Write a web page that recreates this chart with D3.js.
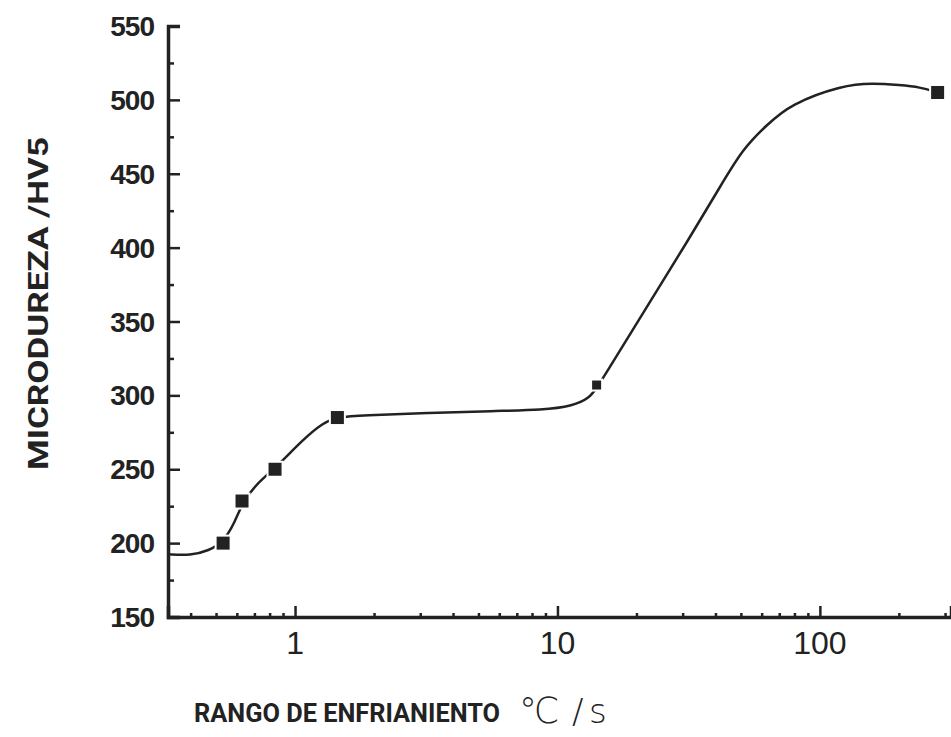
<!DOCTYPE html>
<html>
<head>
<meta charset="utf-8">
<script src="https://cdn.jsdelivr.net/npm/d3@7"></script>
<style>
  body { margin: 0; background: #fff; }
</style>
</head>
<body>
<svg id="chart" width="951" height="737"></svg>
<script>
// measured points: cooling rate (°C/s) vs hardness (HV5)
const rate = [0.532, 0.628, 0.839, 1.45, 14.1, 281];
const hardness = [200, 228.5, 250, 285, 307, 505];

// fitted curve
const curveRate = [0.328, 0.40, 0.47, 0.532, 0.59, 0.628, 0.72, 0.839, 1.07, 1.28, 1.46,
                   1.8, 3.2, 5.7, 8.8, 11.5, 13.2, 14.1, 15.2, 21.2, 32, 41.6, 50.9,
                   62.8, 76.9, 122, 159, 202, 240, 281];
const curveHV = [192.5, 191.5, 195, 200.5, 214, 227, 241, 250.5, 270, 281.5, 285.5,
                 286.5, 288, 289.5, 290, 293, 298, 305, 314, 355.8, 407, 441, 467,
                 483, 497, 510, 511.4, 510, 508.7, 505];

const xMajor = [1, 10, 100];
const yMajor = [150, 200, 250, 300, 350, 400, 450, 500, 550];
const yMinor = [175, 225, 275, 325, 375, 425, 475, 525];

const ink = '#222';
const svg = d3.select('#chart');

const xScale = d3.scaleLog()
                 .domain([0.328, 316])
                 .range([168, 951]);

const yScale = d3.scaleLinear()
                 .domain([150, 550])
                 .range([617, 26]);

const xMinor = xScale.ticks().filter(d => !xMajor.includes(d));

//X axis, ticks point up into the plot
const xAxis = d3.axisTop(xScale)
                .tickValues(xMajor)
                .tickSize(11)
                .tickFormat('');
svg.append('g')
   .attr('class', 'x-axis')
   .attr('transform', `translate(0,${yScale(150)})`)
   .call(xAxis);

svg.append('g')
   .attr('class', 'x-minor')
   .attr('transform', `translate(0,${yScale(150)})`)
   .call(d3.axisTop(xScale).tickValues(xMinor).tickSize(4).tickFormat(''));

svg.select('.x-minor .domain').remove();

//Y axis, ticks point right into the plot
const yAxis = d3.axisRight(yScale)
                .tickValues(yMajor.filter(d => d > 150))
                .tickSize(12)
                .tickFormat('');
svg.append('g')
   .attr('class', 'y-axis')
   .attr('transform', `translate(${xScale.range()[0]},0)`)
   .call(yAxis);

svg.append('g')
   .attr('class', 'y-minor')
   .attr('transform', `translate(${xScale.range()[0]},0)`)
   .call(d3.axisRight(yScale).tickValues(yMinor).tickSize(6).tickFormat(''));

svg.select('.y-minor .domain').remove();

svg.selectAll('.domain')
   .attr('stroke', ink)
   .attr('stroke-width', 3.5);
svg.selectAll('.tick line')
   .attr('stroke', ink)
   .attr('stroke-width', 2.5);

// tick labels
svg.append('g')
   .selectAll('text')
   .data(yMajor)
   .join('text')
   .attr('x', 154)
   .attr('y', d => yScale(d))
   .attr('dy', '0.36em')
   .attr('text-anchor', 'end')
   .attr('font-family', 'Liberation Sans, Arial, sans-serif')
   .attr('font-weight', 'bold')
   .attr('font-size', 28)
   .attr('letter-spacing', -1)
   .attr('fill', ink)
   .text(d => d);

svg.append('g')
   .selectAll('text')
   .data(xMajor)
   .join('text')
   .attr('x', d => xScale(d))
   .attr('y', 654)
   .attr('text-anchor', 'middle')
   .attr('font-family', 'Liberation Sans, Arial, sans-serif')
   .attr('font-size', 32)
   .attr('fill', ink)
   .text(d => d);

// axis titles
svg.append('text')
   .attr('transform', 'translate(48,470) rotate(-90)')
   .attr('font-family', 'Roboto, sans-serif')
   .attr('font-weight', 'bold')
   .attr('font-size', 28)
   .attr('textLength', 333)
   .attr('lengthAdjust', 'spacingAndGlyphs')
   .attr('fill', ink)
   .text('MICRODUREZA /HV5');

svg.append('text')
   .attr('x', 194)
   .attr('y', 722)
   .attr('font-family', 'Roboto, sans-serif')
   .attr('font-weight', 'bold')
   .attr('font-size', 26)
   .attr('textLength', 306)
   .attr('lengthAdjust', 'spacingAndGlyphs')
   .attr('fill', ink)
   .text('RANGO DE ENFRIANIENTO');

// unit, set in three pieces like the scanned figure
const unitParts = [
  {t: '℃', x: 519, size: 36},
  {t: '/', x: 572, size: 34},
  {t: 's', x: 589, size: 34}
];
svg.append('g')
   .selectAll('text')
   .data(unitParts)
   .join('text')
   .attr('x', d => d.x)
   .attr('y', 723)
   .attr('font-family', 'DejaVu Sans, sans-serif')
   .attr('font-weight', 200)
   .attr('font-size', d => d.size)
   .attr('fill', ink)
   .text(d => d.t);

// fitted curve
const curveData = curveRate.map((d, i) => ({x: d, y: curveHV[i]}));
const line = d3.line()
               .x(d => xScale(d.x))
               .y(d => yScale(d.y))
               .curve(d3.curveBasis);

svg.append('path')
   .datum(curveData)
   .attr('fill', 'none')
   .attr('stroke', ink)
   .attr('stroke-width', 2.5)
   .attr('d', line);

// data points
const points = rate.map((d, i) => ({x: d, y: hardness[i]}));
const side = (d, i) => i === 4 ? 9 : 13;

svg.append('g')
   .selectAll('rect')
   .data(points)
   .join('rect')
   .attr('x', (d, i) => xScale(d.x) - side(d, i) / 2)
   .attr('y', (d, i) => yScale(d.y) - side(d, i) / 2)
   .attr('width', side)
   .attr('height', side)
   .attr('fill', ink)
   .attr('stroke', '#fff')
   .attr('stroke-width', 4)
   .attr('paint-order', 'stroke');
</script>
</body>
</html>
